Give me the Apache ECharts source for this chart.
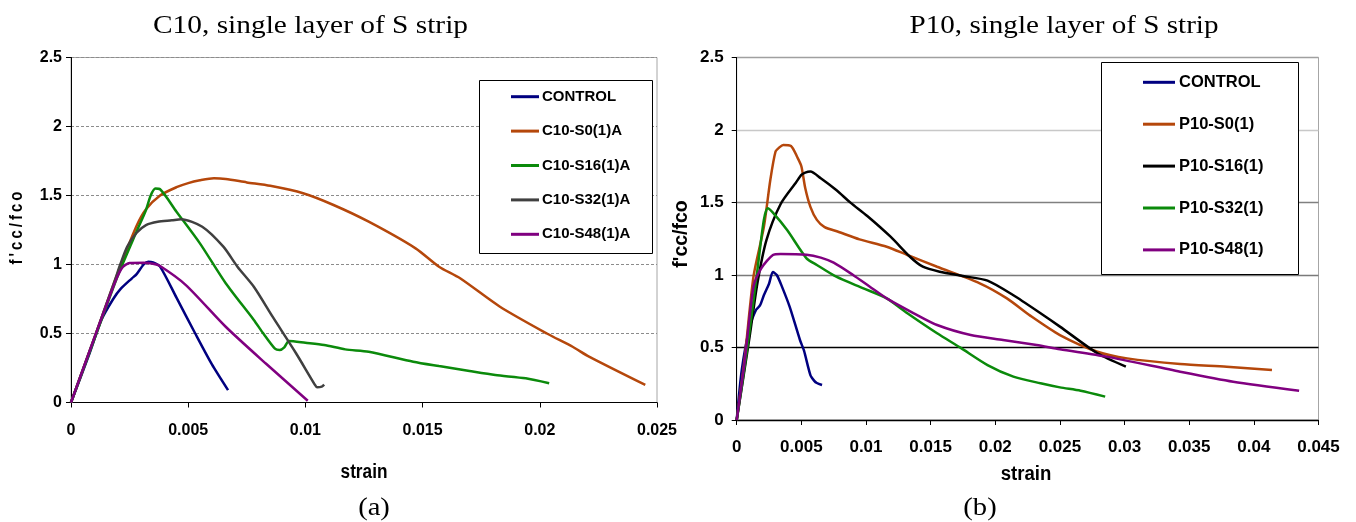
<!DOCTYPE html>
<html>
<head>
<meta charset="utf-8">
<script src="https://cdn.jsdelivr.net/npm/echarts@6/dist/echarts.min.js"></script>
<style>
  html, body { margin: 0; padding: 0; background: #ffffff; }
  #chart { width: 1356px; height: 522px; }
</style>
</head>
<body>
<div id="chart"></div>
<script>
// ---- axis ticks ----
const c10StrainTicks = [0, 0.005, 0.01, 0.015, 0.02, 0.025];
const p10StrainTicks = [0, 0.005, 0.01, 0.015, 0.02, 0.025, 0.03, 0.035, 0.04, 0.045];
const ratioTicks = [0, 0.5, 1, 1.5, 2, 2.5];

// ---- C10 specimens, single layer of S strip: [strain, f'cc/fco] ----
const c10Names = ['CONTROL', 'C10-S0(1)A', 'C10-S16(1)A', 'C10-S32(1)A', 'C10-S48(1)A'];
const c10Colors = ['#000080', '#b5470b', '#0b8a0b', '#404040', '#800080'];

const c10Control = [[0,0],[0.0008,0.36],[0.0013,0.6],[0.0018,0.75],[0.0021,0.82],[0.0026,0.9],[0.0028,0.93],
  [0.0031,1.0],[0.0033,1.02],[0.0035,1.015],[0.0038,0.985],[0.0045,0.76],[0.0053,0.5],[0.006,0.28],[0.0067,0.09]];
const c10S0 = [[0,0],[0.001,0.47],[0.002,0.94],[0.0028,1.28],[0.0032,1.4],[0.0038,1.5],[0.0045,1.56],[0.005,1.59],
  [0.0055,1.61],[0.0061,1.625],[0.0066,1.62],[0.0075,1.595],[0.0085,1.57],[0.0099,1.516],[0.0112,1.431],[0.0127,1.31],
  [0.0147,1.117],[0.0157,0.984],[0.0166,0.9],[0.0183,0.694],[0.0203,0.5],[0.0214,0.404],[0.0221,0.332],[0.0245,0.127]];
const c10S16 = [[0,0],[0.001,0.46],[0.002,0.92],[0.0028,1.24],[0.0032,1.395],[0.0034,1.5],[0.0036,1.55],[0.0038,1.545],
  [0.0045,1.383],[0.0055,1.153],[0.0066,0.864],[0.0078,0.598],[0.0082,0.501],[0.0087,0.39],[0.0089,0.38],[0.0091,0.4],
  [0.0093,0.446],[0.01,0.433],[0.0108,0.417],[0.0117,0.385],[0.0127,0.368],[0.0146,0.296],[0.0157,0.264],[0.017,0.228],
  [0.0181,0.199],[0.0194,0.175],[0.0204,0.139]];
const c10S32 = [[0,0],[0.001,0.47],[0.0019,0.9],[0.0021,1.0],[0.0024,1.13],[0.0028,1.23],[0.0032,1.286],[0.0037,1.31],
  [0.0043,1.32],[0.0047,1.328],[0.0056,1.274],[0.0065,1.129],[0.0071,0.984],[0.0078,0.839],[0.0086,0.622],[0.0096,0.357],
  [0.0104,0.13],[0.0105,0.11],[0.0107,0.115],[0.0108,0.13]];
const c10S48 = [[0,0],[0.001,0.47],[0.0019,0.88],[0.0022,0.98],[0.0025,1.01],[0.0031,1.012],[0.0035,1.005],[0.0038,0.989],
  [0.0049,0.851],[0.0066,0.549],[0.0083,0.284],[0.0101,0.013]];

// ---- P10 specimens, single layer of S strip: [strain, f'cc/fco] ----
const p10Names = ['CONTROL', 'P10-S0(1)', 'P10-S16(1)', 'P10-S32(1)', 'P10-S48(1)'];
const p10Colors = ['#000080', '#b5470b', '#000000', '#0b8a0b', '#800080'];

const p10Control = [[0,0],[0.0004,0.35],[0.001,0.64],[0.0015,0.76],[0.0018,0.79],[0.0021,0.86],[0.0025,0.94],[0.0028,1.02],
  [0.0031,1.0],[0.0035,0.92],[0.0041,0.78],[0.0049,0.55],[0.0052,0.48],[0.0057,0.31],[0.006,0.27],[0.0062,0.255],[0.0066,0.241]];
const p10S0 = [[0,0],[0.0006,0.41],[0.0013,0.99],[0.0021,1.33],[0.0026,1.655],[0.003,1.85],[0.0033,1.88],[0.0036,1.897],
  [0.0042,1.89],[0.0047,1.81],[0.005,1.75],[0.0053,1.6],[0.0057,1.47],[0.0062,1.38],[0.0068,1.33],[0.0078,1.3],[0.0095,1.246],
  [0.0116,1.195],[0.0132,1.138],[0.0155,1.057],[0.0188,0.943],[0.0209,0.839],[0.0227,0.72],[0.025,0.586],[0.0279,0.471],
  [0.0302,0.425],[0.0343,0.386],[0.0379,0.368],[0.0414,0.345]];
const p10S16 = [[0,0],[0.001,0.575],[0.0016,0.943],[0.0023,1.241],[0.0034,1.49],[0.0046,1.64],[0.005,1.69],[0.0053,1.706],
  [0.0057,1.713],[0.0065,1.667],[0.0077,1.586],[0.0088,1.499],[0.0101,1.407],[0.0119,1.264],[0.0134,1.126],[0.0144,1.057],
  [0.0157,1.023],[0.0175,0.993],[0.0194,0.961],[0.0214,0.86],[0.0235,0.736],[0.025,0.644],[0.0279,0.46],[0.0301,0.368]];
const p10S32 = [[0,0],[0.0008,0.483],[0.0016,1.034],[0.0021,1.379],[0.0024,1.46],[0.0028,1.43],[0.0039,1.31],[0.0054,1.115],
  [0.0062,1.069],[0.0077,0.988],[0.0098,0.908],[0.0116,0.839],[0.0132,0.736],[0.0155,0.598],[0.0173,0.499],[0.0194,0.379],
  [0.0214,0.299],[0.0235,0.253],[0.025,0.225],[0.0266,0.202],[0.0285,0.161]];
const p10S48 = [[0,0],[0.0006,0.391],[0.0013,0.919],[0.0019,1.046],[0.0028,1.138],[0.0034,1.145],[0.0054,1.14],[0.0065,1.12],
  [0.0075,1.085],[0.009,1.0],[0.0103,0.919],[0.0116,0.839],[0.0137,0.736],[0.0155,0.655],[0.0181,0.586],[0.0206,0.552],
  [0.0232,0.517],[0.025,0.488],[0.0286,0.437],[0.0343,0.333],[0.0384,0.264],[0.0435,0.202]];

const c10Data = [c10Control, c10S0, c10S16, c10S32, c10S48];
const p10Data = [p10Control, p10S0, p10S16, p10S32, p10S48];

// ---- styling ----
const SANS = "'Liberation Sans', Arial, sans-serif";
const SERIF = "'Liberation Serif', 'Times New Roman', serif";

function fmt(v) { return String(+v.toFixed(4)); }

function makeSeries(names, data, colors, gridIdx) {
  return names.map((n, i) => ({
    name: n,
    type: 'line',
    xAxisIndex: gridIdx,
    yAxisIndex: gridIdx,
    data: data[i],
    showSymbol: false,
    symbol: 'none',
    smooth: 0.25,
    color: colors[i],
    itemStyle: { color: colors[i] },
    lineStyle: { color: colors[i], width: 2.5 },
    emphasis: { disabled: true },
    z: 3 + i
  }));
}

const step = (t) => t[1] - t[0];

function strainAxis(ticks, gridIndex, fontSize, margin) {
  return {
    type: 'value', gridIndex,
    min: ticks[0], max: ticks[ticks.length - 1], interval: step(ticks),
    axisLine: { onZero: false, lineStyle: { color: '#000', width: 1 } },
    axisTick: { show: true, inside: false, length: 5, lineStyle: { color: '#000' } },
    splitLine: { show: false },
    axisLabel: { margin, color: '#000', fontFamily: SANS, fontWeight: 'bold', fontSize, formatter: fmt }
  };
}

function ratioAxis(gridIndex, fontSize, margin, splitLineStyle) {
  return {
    type: 'value', gridIndex,
    min: ratioTicks[0], max: ratioTicks[ratioTicks.length - 1], interval: step(ratioTicks),
    axisLine: { show: true, onZero: false, lineStyle: { color: '#000', width: 1 } },
    axisTick: { show: true, inside: false, length: 5, lineStyle: { color: '#000' } },
    splitLine: { show: true, lineStyle: splitLineStyle },
    axisLabel: { margin, color: '#000', fontFamily: SANS, fontWeight: 'bold', fontSize, formatter: fmt }
  };
}

function label(text, x, y, font, opts) {
  return Object.assign({
    type: 'text', x, y,
    style: { text, font, fill: '#000', align: 'center', verticalAlign: 'middle' }
  }, opts || {});
}

const option = {
  animation: false,
  backgroundColor: '#ffffff',
  grid: [
    { left: 71, top: 57.5, width: 586, height: 345, show: true, borderColor: '#a6a6a6', borderWidth: 1, backgroundColor: 'transparent' },
    { left: 736.7, top: 57.5, width: 581.8, height: 362.5, show: true, borderColor: '#a6a6a6', borderWidth: 1, backgroundColor: 'transparent' }
  ],
  xAxis: [
    strainAxis(c10StrainTicks, 0, 16, 20),
    strainAxis(p10StrainTicks, 1, 17, 19)
  ],
  yAxis: [
    ratioAxis(0, 16, 9, { color: '#8c8c8c', width: 1, type: [3, 2] }),
    ratioAxis(1, 17, 13, { color: ['#000000', '#000000', '#7a7a7a', '#808080', '#c8c8c8', '#a0a0a0'], width: 1.4 })
  ],
  legend: [
    {
      data: c10Names, orient: 'vertical', left: 511, top: 86.7, padding: 0,
      icon: 'rect', itemWidth: 28, itemHeight: 3, itemGap: 14.4, selectedMode: false,
      textStyle: { color: '#000', fontFamily: SANS, fontWeight: 'bold', fontSize: 15, lineHeight: 20, padding: [0, 0, 0, -2] }
    },
    {
      data: p10Names, orient: 'vertical', left: 1143, top: 72.3, padding: 0,
      icon: 'rect', itemWidth: 32, itemHeight: 3, itemGap: 21.9, selectedMode: false,
      textStyle: { color: '#000', fontFamily: SANS, fontWeight: 'bold', fontSize: 16.5, lineHeight: 20, padding: [0, 0, 0, -1] }
    }
  ],
  graphic: [
    // legend frames
    { type: 'rect', shape: { x: 479.5, y: 80.5, width: 173, height: 173 }, style: { fill: '#fff', stroke: '#000', lineWidth: 1 }, z: 1 },
    { type: 'rect', shape: { x: 1101.5, y: 62.5, width: 197, height: 212 }, style: { fill: '#fff', stroke: '#000', lineWidth: 1 }, z: 1 },
    // titles
    label('C10, single layer of S strip', 310.5, 26, '26px ' + SERIF, { scaleX: 1.13 }),
    label('P10, single layer of S strip', 1064, 26, '26px ' + SERIF, { scaleX: 1.12 }),
    // axis names
    label('f\u2009\'\u2009c\u2009c\u2009/\u2009f\u2009c\u2009o', 17, 228, 'bold 15px ' + SANS, { rotation: Math.PI / 2, scaleY: 1.2 }),
    label('f\'cc/fco', 681.7, 234, 'bold 19.5px ' + SANS, { rotation: Math.PI / 2 }),
    label('strain', 364, 472, 'bold 20px ' + SANS, { scaleX: 0.86 }),
    label('strain', 1026, 474, 'bold 20px ' + SANS, { scaleX: 0.93 }),
    // panel captions
    label('(a)', 374, 508, '26px ' + SERIF, { scaleX: 1.1 }),
    label('(b)', 980, 508, '26px ' + SERIF, { scaleX: 1.1 })
  ],
  series: [].concat(
    makeSeries(c10Names, c10Data, c10Colors, 0),
    makeSeries(p10Names, p10Data, p10Colors, 1)
  )
};

const chart = echarts.init(document.getElementById('chart'), null, { renderer: 'canvas' });
chart.setOption(option);
</script>
</body>
</html>
